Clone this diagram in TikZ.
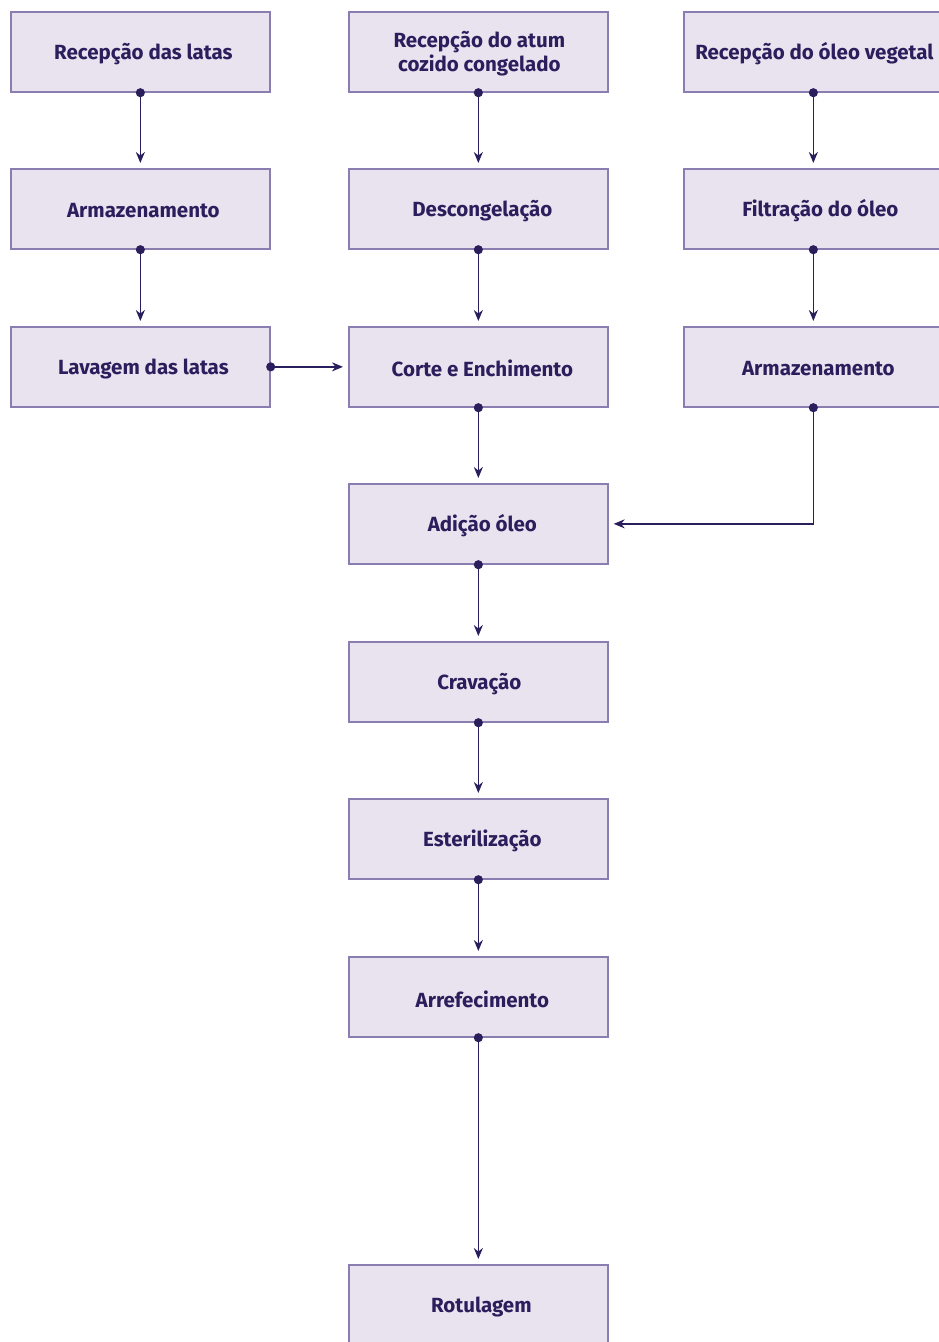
\documentclass[tikz,border=0pt]{standalone}
\usepackage{fontspec}
\setmainfont{Fira Sans}
\usetikzlibrary{arrows.meta}
\definecolor{boxfill}{HTML}{E8E3EE}
\definecolor{boxline}{HTML}{8A7DB0}
\definecolor{ink}{HTML}{2A1E5C}
\tikzset{
  stepbox/.style={draw=boxline, line width=1.7pt, fill=boxfill, minimum width=259pt, minimum height=80pt, inner sep=0pt, anchor=north west},
  lbl/.style={text=ink, font=\fontsize{20.5}{24}\selectfont\bfseries, align=center, inner sep=0pt, yshift=-2pt},
  flow/.style={draw=ink, line width=1.6pt, {Circle[length=9pt]}-{Stealth[length=11pt,width=9pt]}, shorten >=5pt, shorten <=-4.5pt},
}
\begin{document}
\begin{tikzpicture}[x=1pt,y=-1pt]
\useasboundingbox (0,0) rectangle (939,1342);
% boxes
\node[stepbox] (a1) at (10,11) {};
\node[stepbox] (a2) at (10,168) {};
\node[stepbox] (a3) at (10,326) {};
\node[stepbox] (b1) at (348,11) {};
\node[stepbox] (b2) at (348,168) {};
\node[stepbox] (b3) at (348,326) {};
\node[stepbox] (b4) at (348,483) {};
\node[stepbox] (b5) at (348,641) {};
\node[stepbox] (b6) at (348,798) {};
\node[stepbox] (b7) at (348,956) {};
\node[stepbox] (b8) at (348,1264) {};
\node[stepbox] (c1) at (683,11) {};
\node[stepbox] (c2) at (683,168) {};
\node[stepbox] (c3) at (683,326) {};
% labels
\node[lbl] at ([xshift=3pt]a1.center) {Recepção das latas};
\node[lbl] at ([xshift=3pt]a2.center) {Armazenamento};
\node[lbl] at ([xshift=3pt]a3.center) {Lavagem das latas};
\node[lbl] at ([xshift=1pt]b1.center) {Recepção do atum\\cozido congelado};
\node[lbl] at ([xshift=4pt]b2.center) {Descongelação};
\node[lbl] at ([xshift=4pt]b3.center) {Corte e Enchimento};
\node[lbl] at ([xshift=4pt]b4.center) {Adição óleo};
\node[lbl] at ([xshift=1pt]b5.center) {Cravação};
\node[lbl] at ([xshift=4pt]b6.center) {Esterilização};
\node[lbl] at ([xshift=4pt]b7.center) {Arrefecimento};
\node[lbl] at ([xshift=3pt]b8.center) {Rotulagem};
\node[lbl] at ([xshift=1pt]c1.center) {Recepção do óleo vegetal};
\node[lbl] at ([xshift=7pt]c2.center) {Filtração do óleo};
\node[lbl] at ([xshift=5pt]c3.center) {Armazenamento};
% connectors
\draw[flow] (a1.south) -- (a2.north);
\draw[flow] (a2.south) -- (a3.north);
\draw[flow] (a3.east) -- (b3.west);
\draw[flow] (b1.south) -- (b2.north);
\draw[flow] (b2.south) -- (b3.north);
\draw[flow] (b3.south) -- (b4.north);
\draw[flow] (b4.south) -- (b5.north);
\draw[flow] (b5.south) -- (b6.north);
\draw[flow] (b6.south) -- (b7.north);
\draw[flow] (b7.south) -- (b8.north);
\draw[flow] (c1.south) -- (c2.north);
\draw[flow] (c2.south) -- (c3.north);
\draw[flow] (c3.south) |- (b4.east);
\end{tikzpicture}
\end{document}
